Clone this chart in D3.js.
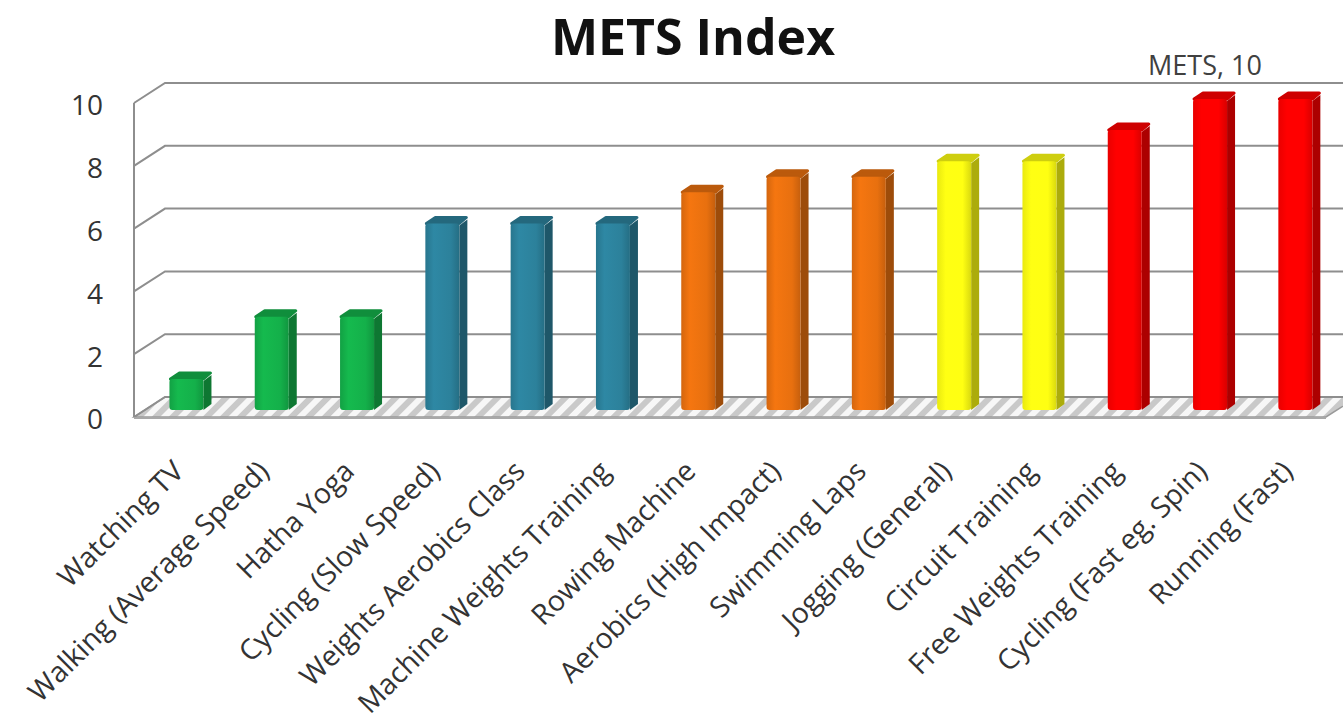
<!DOCTYPE html>
<html>
<head>
<meta charset="utf-8">
<script src="https://cdn.jsdelivr.net/npm/d3@7"></script>
<style>
  body { margin: 0; background: #ffffff; }
  text { font-family: "Open Sans", "DejaVu Sans", sans-serif; }
</style>
</head>
<body>
<div id="grafiekContainer"></div>
<script>

// data van de grafiek
var activiteiten = ["Watching TV", "Walking (Average Speed)", "Hatha Yoga",
  "Cycling (Slow Speed)", "Weights Aerobics Class", "Machine Weights Training",
  "Rowing Machine", "Aerobics (High Impact)", "Swimming Laps", "Jogging (General)",
  "Circuit Training", "Free Weights Training", "Cycling (Fast eg. Spin)", "Running (Fast)"];
var mets = [1, 3, 3, 6, 6, 6, 7, 7.5, 7.5, 8, 8, 9, 10, 10];
var groepen = ["laag", "laag", "laag", "midden", "midden", "midden", "hoog", "hoog",
  "hoog", "zwaar", "zwaar", "max", "max", "max"];
var yTicks = [0, 2, 4, 6, 8, 10];
var titel = "METS Index";
var labelTekst = "METS, 10";

var breedte = 1343;
var hoogte = 721;

// kleuren per groep
var kleur = d3.scaleOrdinal()
              .domain(["laag", "midden", "hoog", "zwaar", "max"])
              .range(["#14b04a", "#2c819b", "#e8700f", "#ffff12", "#ff0000"]);

// 3d diepte van de wanden
var diepte = {x: 31, y: -20};
var links = 134;
var rechts = 1326;

var svg = d3.select("#grafiekContainer")
            .append("svg")
            .attr("width", breedte)
            .attr("height", hoogte);

var defs = svg.append("defs");

// patroon voor de vloer
var patroon = defs.append("pattern")
                  .attr("id", "vloer")
                  .attr("patternUnits", "userSpaceOnUse")
                  .attr("width", 12)
                  .attr("height", 12)
                  .attr("patternTransform", "rotate(45)");
patroon.append("rect")
       .attr("width", 12)
       .attr("height", 12)
       .attr("fill", "#c9c9c9");
patroon.append("rect")
       .attr("width", 6)
       .attr("height", 12)
       .attr("fill", "#f7f7f7");

// verloop voor de voorkant van elke staaf
kleur.domain().forEach(function(g) {
  var c = d3.color(kleur(g));
  var verloop = defs.append("linearGradient")
                    .attr("id", "verloop-" + g)
                    .attr("x1", 0).attr("x2", 1).attr("y1", 0).attr("y2", 0);
  verloop.append("stop").attr("offset", "0%").attr("stop-color", c.darker(0.25));
  verloop.append("stop").attr("offset", "25%").attr("stop-color", c.brighter(0.15));
  verloop.append("stop").attr("offset", "75%").attr("stop-color", c);
  verloop.append("stop").attr("offset", "100%").attr("stop-color", c.darker(0.45));
});

// schalen
var yVoor = d3.scaleLinear().domain([0, 10]).range([417, 103]);
var yStaaf = d3.scaleLinear().domain([0, 10]).range([410, 99]);
var x = d3.scalePoint()
          .domain(activiteiten)
          .range([143.8, 1338])
          .padding(0.5);

// vloer
svg.append("polygon")
   .attr("points", [[links, yVoor(0)], [rechts, yVoor(0)],
                    [rechts + diepte.x, yVoor(0) + diepte.y],
                    [links + diepte.x, yVoor(0) + diepte.y]].join(" "))
   .attr("fill", "url(#vloer)")
   .attr("stroke", "#9a9a9a")
   .attr("stroke-width", 1.5);

// rasterlijnen op de achterwand en zijwand
svg.selectAll(".raster")
   .data(yTicks)
   .enter()
   .append("path")
   .attr("class", "raster")
   .attr("d", function(d) {
     return "M" + links + "," + yVoor(d) +
            "L" + (links + diepte.x) + "," + (yVoor(d) + diepte.y) +
            "L" + (breedte + 20) + "," + (yVoor(d) + diepte.y); })
   .attr("fill", "none")
   .attr("stroke", "#8e8e8e")
   .attr("stroke-width", 2);

// linker as
svg.append("line")
   .attr("x1", links).attr("x2", links)
   .attr("y1", yVoor(10)).attr("y2", yVoor(0))
   .attr("stroke", "#8e8e8e")
   .attr("stroke-width", 2);

// voorrand van de vloer
svg.append("line")
   .attr("x1", links).attr("x2", rechts)
   .attr("y1", yVoor(0) + 1).attr("y2", yVoor(0) + 1)
   .attr("stroke", "#a8a8a8")
   .attr("stroke-width", 2);

// y waarden
svg.selectAll(".yLabel")
   .data(yTicks)
   .enter()
   .append("text")
   .attr("class", "yLabel")
   .attr("x", 103)
   .attr("y", function(d) { return yVoor(d) + 5; })
   .attr("text-anchor", "end")
   .attr("dominant-baseline", "middle")
   .attr("font-size", "28px")
   .attr("fill", "#333333")
   .text(function(d) { return d; });

// staven
var staafBreedte = 34;
var zij = {x: 8, y: -6};

var staaf = svg.selectAll(".staaf")
               .data(mets)
               .enter()
               .append("g")
               .attr("class", "staaf");

// zijkant
staaf.append("polygon")
     .attr("points", function(d, i) {
       var x1 = x(activiteiten[i]) + staafBreedte / 2;
       return [[x1, yStaaf(d) + 2], [x1 + zij.x, yStaaf(d) + zij.y + 2],
               [x1 + zij.x, yStaaf(0) + zij.y], [x1, yStaaf(0)]].join(" "); })
     .attr("fill", function(d, i) { return d3.color(kleur(groepen[i])).darker(1.1); });

// bovenkant
staaf.append("polygon")
     .attr("points", function(d, i) {
       var x0 = x(activiteiten[i]) - staafBreedte / 2;
       var x1 = x0 + staafBreedte;
       return [[x0 + 1, yStaaf(d)], [x0 + zij.x + 2, yStaaf(d) + zij.y],
               [x1 + zij.x - 1, yStaaf(d) + zij.y], [x1, yStaaf(d)]].join(" "); })
     .attr("fill", function(d, i) { return d3.color(kleur(groepen[i])).darker(0.6); })
     .attr("stroke", function(d, i) { return d3.color(kleur(groepen[i])).darker(0.6); })
     .attr("stroke-linejoin", "round")
     .attr("stroke-width", 3);

// voorkant
staaf.append("rect")
     .attr("x", function(d, i) { return x(activiteiten[i]) - staafBreedte / 2; })
     .attr("y", function(d) { return yStaaf(d); })
     .attr("width", staafBreedte)
     .attr("height", function(d) { return yStaaf(0) - yStaaf(d); })
     .attr("rx", 3)
     .attr("fill", function(d, i) { return "url(#verloop-" + groepen[i] + ")"; });

// categorie labels
svg.selectAll(".xLabel")
   .data(activiteiten)
   .enter()
   .append("text")
   .attr("class", "xLabel")
   .attr("transform", function(d) {
     return "translate(" + (x(d) - 1) + "," + 473 + ") rotate(-45)"; })
   .attr("text-anchor", "end")
   .attr("font-size", "28.5px")
   .attr("fill", "#333333")
   .text(function(d) { return d; });

// data label boven de hoogste staaf
svg.append("text")
   .attr("x", 1205)
   .attr("y", 75)
   .attr("text-anchor", "middle")
   .attr("font-size", "27px")
   .attr("fill", "#404040")
   .text(labelTekst);

// titel
svg.append("text")
   .attr("x", 693)
   .attr("y", 55)
   .attr("text-anchor", "middle")
   .attr("font-size", "50px")
   .attr("font-weight", "bold")
   .attr("fill", "#111111")
   .text(titel);

</script>
</body>
</html>
